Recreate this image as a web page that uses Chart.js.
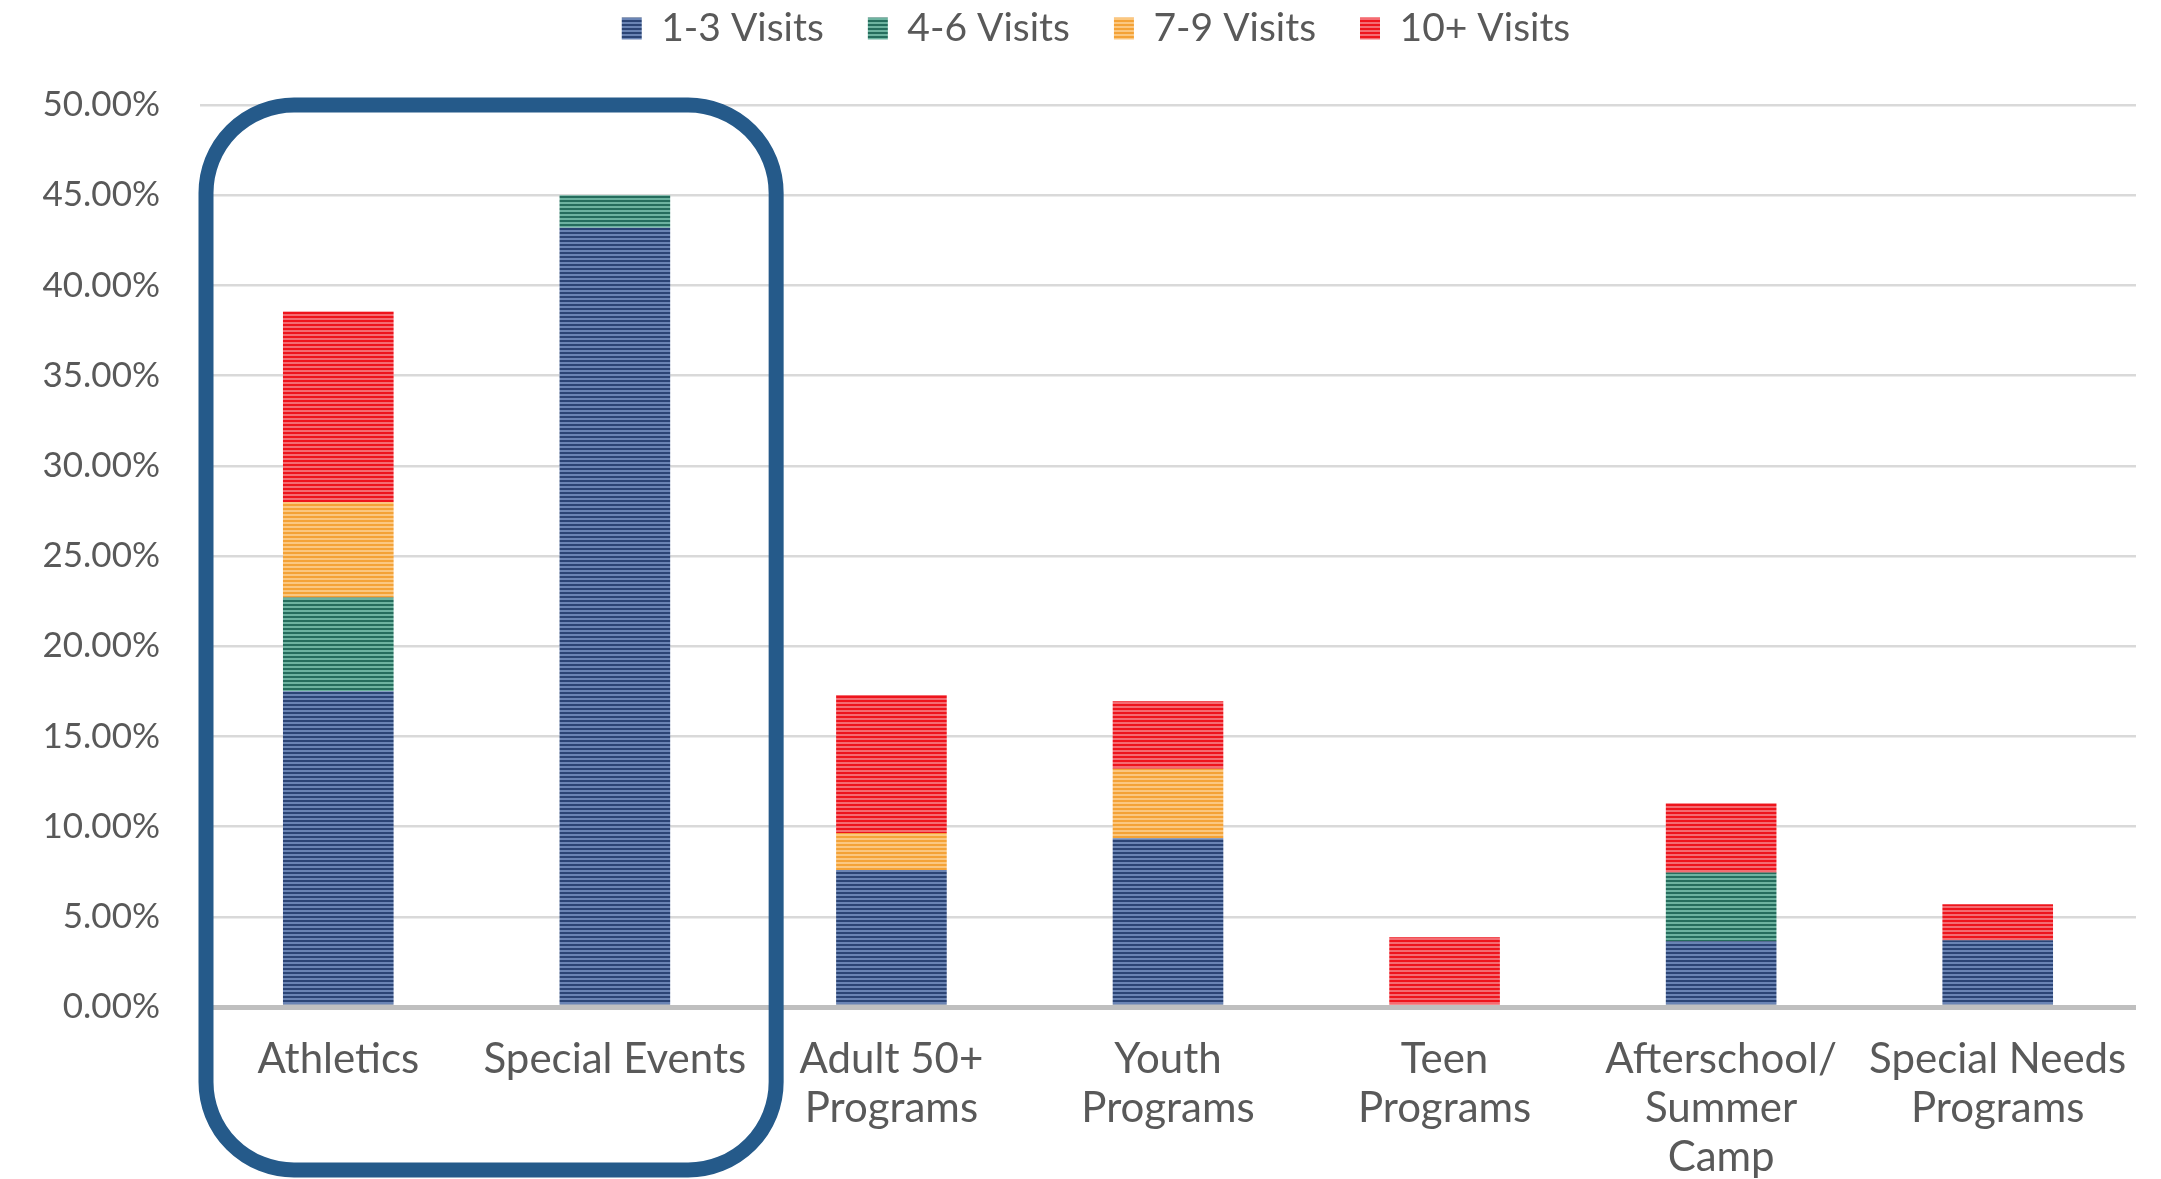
<!DOCTYPE html>
<html lang="en">
<head>
    <meta charset="UTF-8">
    <title>Program Visits</title>
    <script src="https://cdn.jsdelivr.net/npm/chart.js"></script>
    <style>
        html, body {
            margin: 0;
            padding: 0;
            background: #fff;
        }

        .wrap {
            width: 2161px;
            height: 1179px;
        }
    </style>
</head>
<body>

    <div class="wrap">
        <canvas id="visitsChart" width="2161" height="1179"></canvas>
    </div>

    <script>
        // categories (multi-line labels as in the original)
        const programs = [
            'Athletics',
            'Special Events',
            ['Adult 50+', 'Programs'],
            ['Youth', 'Programs'],
            ['Teen', 'Programs'],
            ['Afterschool/', 'Summer', 'Camp'],
            ['Special Needs', 'Programs']
        ];

        // share of respondents, percent
        const visits1to3  = [17.5, 43.2, 7.6, 9.35, 0, 3.65, 3.7];
        const visits4to6  = [5.2, 1.8, 0, 0, 0, 3.8, 0];
        const visits7to9  = [5.3, 0, 2.05, 3.85, 0, 0, 0];
        const visits10up  = [10.55, 0, 7.65, 3.75, 3.87, 3.85, 2.0];

        const yTicks = [0, 5, 10, 15, 20, 25, 30, 35, 40, 45, 50];
        const highlighted = [0, 1]; // Athletics, Special Events

        // striped fill like the original bars
        function stripes(dark, light) {
            const c = document.createElement('canvas');
            c.width = 4;
            c.height = 4;
            const g = c.getContext('2d');
            g.fillStyle = light;
            g.fillRect(0, 0, 4, 4);
            g.fillStyle = dark;
            g.fillRect(0, 0, 4, 2);
            return g.createPattern(c, 'repeat');
        }

        const textColor = '#595959';

        // pushes the plot area down below the legend, and nudges the legend right
        const legendSpace = {
            id: 'legendSpace',
            beforeInit(chart) {
                const fit = chart.legend.fit;
                chart.legend.fit = function () {
                    fit.call(this);
                    this.height = 140;
                };
            },
            afterLayout(chart) {
                chart.legend.left += 28;
                chart.legend.right += 28;
            }
        };

        // rounded box around the first two programs
        const highlightBox = {
            id: 'highlightBox',
            afterDraw(chart) {
                const { ctx, scales: { x, y } } = chart;
                const first = x.getPixelForValue(highlighted[0]);
                const last = x.getPixelForValue(highlighted[highlighted.length - 1]);
                const half = (x.getPixelForValue(1) - x.getPixelForValue(0)) / 2;
                const left = first - half + 6;
                const right = last + half + 23;
                const top = y.getPixelForValue(yTicks[yTicks.length - 1]);
                const bottom = chart.height - 9;
                ctx.save();
                ctx.strokeStyle = '#255a8a';
                ctx.lineWidth = 15;
                ctx.beginPath();
                ctx.roundRect(left, top, right - left, bottom - top, 88);
                ctx.stroke();
                ctx.restore();
            }
        };

        const visitsChart = new Chart(document.getElementById('visitsChart'), {
            type: 'bar',
            data: {
                labels: programs,
                datasets: [
                    { label: '1-3 Visits', data: visits1to3, backgroundColor: stripes('#2b4475', '#6a84b4') },
                    { label: '4-6 Visits', data: visits4to6, backgroundColor: stripes('#256d5d', '#6db3a0') },
                    { label: '7-9 Visits', data: visits7to9, backgroundColor: stripes('#f4a236', '#fbc780') },
                    { label: '10+ Visits', data: visits10up, backgroundColor: stripes('#ee141c', '#f46c72') }
                ]
            },
            options: {
                responsive: false,
                animation: false,
                events: [],
                categoryPercentage: 0.8,
                barPercentage: 0.5,
                layout: {
                    padding: { top: -35, left: 0, right: 25, bottom: 0 }
                },
                plugins: {
                    legend: {
                        position: 'top',
                        labels: {
                            boxWidth: 20,
                            boxHeight: 22,
                            padding: 44,
                            color: textColor,
                            font: { family: 'Lato', size: 39 }
                        }
                    },
                    tooltip: { enabled: false }
                },
                scales: {
                    x: {
                        stacked: true,
                        grid: { display: false, drawTicks: false },
                        border: { display: false },
                        ticks: {
                            color: textColor,
                            padding: 28,
                            maxRotation: 0,
                            autoSkip: false,
                            font: { family: 'Lato', size: 42, lineHeight: 1.17 }
                        },
                        afterFit(scale) {
                            scale.height = 172;
                        }
                    },
                    y: {
                        stacked: true,
                        min: yTicks[0],
                        max: yTicks[yTicks.length - 1],
                        afterBuildTicks(scale) {
                            scale.ticks = yTicks.map(v => ({ value: v }));
                        },
                        grid: {
                            drawTicks: false,
                            color: ctx => ctx.tick && ctx.tick.value === 0 ? '#bfbfbf' : '#d9d9d9',
                            lineWidth: ctx => ctx.tick && ctx.tick.value === 0 ? 5 : 2.5
                        },
                        border: { display: false },
                        ticks: {
                            color: textColor,
                            padding: 40,
                            font: { family: 'Lato', size: 35 },
                            callback: v => v.toFixed(2) + '%'
                        },
                        afterFit(scale) {
                            scale.width = 200;
                        }
                    }
                }
            },
            plugins: [legendSpace, highlightBox]
        });
    </script>

</body>
</html>
